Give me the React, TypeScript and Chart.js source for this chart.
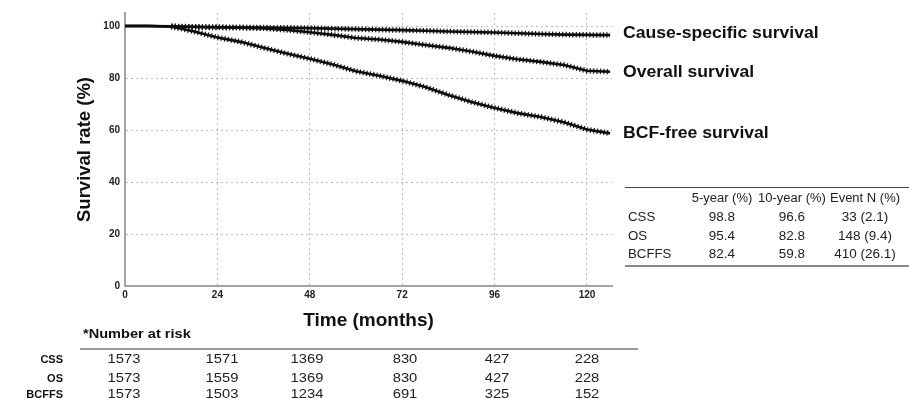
import React, { useEffect, useRef } from 'react';
import Chart from 'chart.js/auto';

// ---------- data ----------
const MONTHS = [0, 6, 12, 18, 24, 30, 36, 42, 48, 54, 60, 66, 72, 78, 84, 90, 96, 102, 108, 114, 120, 126];
const CSS_SURV = [100, 100, 99.9, 99.7, 99.6, 99.5, 99.4, 99.3, 99.2, 99.0, 98.8, 98.6, 98.4, 98.2, 97.9, 97.7, 97.5, 97.2, 96.9, 96.7, 96.6, 96.5];
const OS_SURV = [100, 100, 99.8, 99.6, 99.4, 99.3, 99.1, 98.5, 97.6, 96.6, 95.4, 94.8, 93.9, 92.7, 91.6, 90.2, 88.5, 87.2, 86.2, 85.0, 82.8, 82.4];
const BCF_SURV = [100, 100, 99.8, 97.9, 95.6, 93.9, 91.6, 89.4, 87.4, 85.2, 82.6, 80.9, 78.9, 76.5, 73.5, 70.8, 68.5, 66.5, 65.0, 63.0, 60.2, 58.7];
const CENSOR_FROM = 12;

const X_TICKS = [0, 24, 48, 72, 96, 120];
const Y_TICKS = [0, 20, 40, 60, 80, 100];

const CURVE_LABELS = ['Cause-specific survival', 'Overall survival', 'BCF-free survival'];

const SUMMARY_HEADERS = ['5-year (%)', '10-year (%)', 'Event N (%)'];
const SUMMARY_ROWS = ['CSS', 'OS', 'BCFFS'];
const FIVE_YEAR = ['98.8', '95.4', '82.4'];
const TEN_YEAR = ['96.6', '82.8', '59.8'];
const EVENT_N = ['33 (2.1)', '148 (9.4)', '410 (26.1)'];

const RISK_TITLE = '*Number at risk';
const RISK_ROWS = ['CSS', 'OS', 'BCFFS'];
const RISK_CSS = [1573, 1571, 1369, 830, 427, 228];
const RISK_OS = [1573, 1559, 1369, 830, 427, 228];
const RISK_BCFFS = [1573, 1503, 1234, 691, 325, 152];

// ---------- layout ----------
const FONT = '"Liberation Sans", Arial, Helvetica, sans-serif';
const CURVE_LABEL_Y = [33, 72, 133];
const SUMMARY_COL_X = [722, 792, 865];
const SUMMARY_ROW_Y = [216.5, 235.5, 254];
const RISK_COL_X = [124, 222, 307, 405, 497, 587];
const RISK_ROW_Y = [359, 378, 394];

type TxtProps = {
  x: number; y: number; size: number; bold?: boolean; align?: 'left' | 'center' | 'right';
  sx?: number; color?: string; children: React.ReactNode;
};

function Txt({ x, y, size, bold, align = 'left', sx = 1, color = '#111', children }: TxtProps) {
  const tx = align === 'center' ? '-50%' : align === 'right' ? '-100%' : '0';
  return (
    <div
      style={{
        position: 'absolute', left: x, top: y, fontSize: size, fontWeight: bold ? 700 : 400,
        lineHeight: 1, whiteSpace: 'nowrap', color,
        transformOrigin: `${align} center`,
        transform: `translate(${tx}, -50%) scaleX(${sx})`,
      }}
    >
      {children}
    </div>
  );
}

const toPts = (vals: number[]) => MONTHS.map((m, i) => ({ x: m, y: vals[i] }));

export default function App() {
  const ref = useRef<HTMLCanvasElement | null>(null);

  useEffect(() => {
    if (!ref.current) return;
    const series = [CSS_SURV, OS_SURV, BCF_SURV];
    const datasets: any[] = [];
    series.forEach((vals, k) => {
      datasets.push({
        label: CURVE_LABELS[k],
        data: toPts(vals),
        borderColor: '#0d0d0d',
        borderWidth: 2.6,
        pointRadius: 0,
        tension: 0,
      });
      datasets.push({
        label: CURVE_LABELS[k] + ' censored',
        data: toPts(vals).filter((p) => p.x >= CENSOR_FROM),
        borderColor: '#1a1a1a',
        borderWidth: 5.5,
        borderDash: [1.2, 2.2],
        pointRadius: 0,
        tension: 0,
      });
    });

    const chart = new Chart(ref.current, {
      type: 'line',
      data: { datasets },
      options: {
        responsive: false,
        animation: false,
        layout: { padding: { left: 0, top: 13, right: 297, bottom: 62 } },
        plugins: { legend: { display: false }, tooltip: { enabled: false } },
        scales: {
          x: {
            type: 'linear',
            min: 0,
            max: 126.5,
            afterBuildTicks: (s: any) => { s.ticks = X_TICKS.map((v) => ({ value: v })); },
            afterFit: (s: any) => { s.height = 50; },
            grid: { color: '#bcbcbc', lineWidth: 1, drawTicks: false },
            border: { display: true, color: '#a4a4a4', width: 2, dash: [2, 3] },
            ticks: {
              color: '#222', padding: 3, maxRotation: 0, autoSkip: false,
              font: { family: FONT, size: 10, weight: 'bold' },
            },
            title: {
              display: true, text: 'Time (months)', color: '#111',
              font: { family: FONT, size: 19, weight: 'bold' },
              padding: { top: 0, bottom: 3.5 },
            },
          },
          y: {
            type: 'linear',
            min: 0,
            max: 105,
            afterBuildTicks: (s: any) => { s.ticks = Y_TICKS.map((v) => ({ value: v })); },
            afterFit: (s: any) => { s.width = 125; },
            grid: { color: '#bcbcbc', lineWidth: 1, drawTicks: false },
            border: { display: true, color: '#a4a4a4', width: 2, dash: [2, 3] },
            ticks: {
              color: '#222', padding: 5,
              font: { family: FONT, size: 10, weight: 'bold' },
            },
            title: {
              display: true, text: 'Survival rate (%)', color: '#111',
              font: { family: FONT, size: 18.5, weight: 'bold' },
              padding: { top: 74, bottom: 0 },
            },
          },
        },
      } as any,
    });
    return () => chart.destroy();
  }, []);

  const riskSeries = [RISK_CSS, RISK_OS, RISK_BCFFS];
  const summaryCols = [FIVE_YEAR, TEN_YEAR, EVENT_N];

  return (
    <div
      style={{
        position: 'absolute', left: 0, top: 0, width: 909, height: 398, background: '#fff',
        overflow: 'hidden', fontFamily: FONT, color: '#111',
      }}
    >
      <canvas ref={ref} width={909} height={398} style={{ position: 'absolute', left: 0, top: 0 }} />

      {CURVE_LABELS.map((t, i) => (
        <Txt key={t} x={623} y={CURVE_LABEL_Y[i]} size={16} bold sx={1.1}>{t}</Txt>
      ))}

      {/* summary table */}
      <div style={{ position: 'absolute', left: 625, top: 186.5, width: 284, borderTop: '1px solid #444' }} />
      {SUMMARY_HEADERS.map((h, j) => (
        <Txt key={h} x={SUMMARY_COL_X[j]} y={197.5} size={12.5} align="center" sx={1.04} color="#222">{h}</Txt>
      ))}
      {SUMMARY_ROWS.map((r, i) => (
        <React.Fragment key={r}>
          <Txt x={628} y={SUMMARY_ROW_Y[i]} size={12.5} sx={1.06} color="#222">{r}</Txt>
          {summaryCols.map((col, j) => (
            <Txt key={j} x={SUMMARY_COL_X[j]} y={SUMMARY_ROW_Y[i]} size={12.5} align="center" sx={1.08} color="#222">{col[i]}</Txt>
          ))}
        </React.Fragment>
      ))}
      <div style={{ position: 'absolute', left: 625, top: 265, width: 284, borderTop: '2px solid #8a8a8a' }} />

      {/* number at risk */}
      <Txt x={83} y={334} size={13.5} bold sx={1.08}>{RISK_TITLE}</Txt>
      <div style={{ position: 'absolute', left: 80, top: 348, width: 558, borderTop: '2px solid #9a9a9a' }} />
      {RISK_ROWS.map((r, i) => (
        <React.Fragment key={r}>
          <Txt x={63} y={RISK_ROW_Y[i]} size={11} bold align="right">{r}</Txt>
          {riskSeries[i].map((v, j) => (
            <Txt key={j} x={RISK_COL_X[j]} y={RISK_ROW_Y[i]} size={12.5} align="center" sx={1.18} color="#222">{v}</Txt>
          ))}
        </React.Fragment>
      ))}
    </div>
  );
}
